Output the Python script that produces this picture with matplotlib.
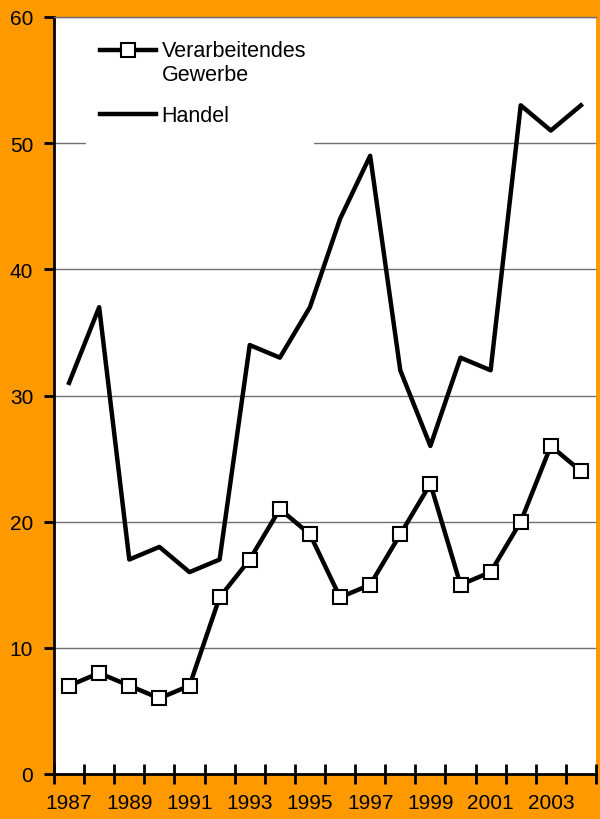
import matplotlib.pyplot as plt
import numpy as np
from matplotlib.legend_handler import HandlerLine2D
from matplotlib.patches import Rectangle

plt.rcParams['font.family'] = ['Liberation Sans', 'DejaVu Sans']

years = list(range(1987, 2005))
gewerbe = [7, 8, 7, 6, 7, 14, 17, 21, 19, 14, 15, 19, 23, 15, 16, 20, 26, 24]
handel = [31, 37, 17, 18, 16, 17, 34, 33, 37, 44, 49, 32, 26, 33, 32, 53, 51, 53]
year_labels = [str(y) if (y - 1987) % 2 == 0 else '' for y in years]

orange = '#FF9900'


class RaisedLine(HandlerLine2D):
    # put the legend handle level with the first line of a two-line label
    def __init__(self, dy=0.0, **kw):
        super().__init__(**kw)
        self.dy = dy

    def create_artists(self, legend, orig_handle, xdescent, ydescent, width,
                       height, fontsize, trans):
        arts = super().create_artists(legend, orig_handle, xdescent, ydescent,
                                      width, height, fontsize, trans)
        for a in arts:
            a.set_ydata(np.asarray(a.get_ydata()) + self.dy * fontsize)
        return arts


fig = plt.figure(figsize=(6, 8.2), dpi=100, facecolor=orange)
ax = fig.add_axes([54/600, 45/820, 542/600, 757/820])
ax.set_facecolor('white')

x = np.arange(len(years))
l1, = ax.plot(x, gewerbe, color='black', lw=3.2, marker='s', markersize=9.5,
              markerfacecolor='white', markeredgecolor='black', markeredgewidth=1.5,
              label='Verarbeitendes\nGewerbe', zorder=3)
l2, = ax.plot(x, handel, color='black', lw=3.2, label='Handel', zorder=3)

ax.set_xlim(-0.5, len(years) - 0.5)
ax.set_ylim(0, 60)
ax.set_yticks(range(0, 61, 10))
ax.yaxis.grid(True, color='#707070', lw=1)
ax.set_axisbelow(True)

# category axis: ticks between years, labels centred
ax.set_xticks(np.arange(-0.5, len(years)))
ax.set_xticklabels([])
ax.set_xticks(x, minor=True)
ax.set_xticklabels(year_labels, minor=True, fontsize=15)
ax.tick_params(axis='x', which='major', direction='inout', length=15, width=2)
ax.tick_params(axis='x', which='minor', length=0, pad=14)
ax.tick_params(axis='y', direction='out', length=7, width=2, labelsize=15, pad=8)

ax.spines['left'].set_linewidth(2)
ax.spines['bottom'].set_linewidth(2)
ax.spines['top'].set_color('#707070')
ax.spines['top'].set_linewidth(1)
ax.spines['right'].set_visible(False)

# white block behind the legend (hides the gridline at 50)
ax.add_patch(Rectangle((0.059, 0.82), 0.42, 0.17, transform=ax.transAxes,
                       facecolor='white', edgecolor='none', zorder=1))

leg = ax.legend(handler_map={l1: RaisedLine(dy=0.58)},
                loc='upper left', bbox_to_anchor=(0.085, 0.97), fontsize=15.5,
                handlelength=2.6, handletextpad=0.25, labelspacing=0.94,
                frameon=False, borderpad=0, borderaxespad=0)
leg.set_zorder(5)

fig.savefig('out.png', dpi=100, facecolor=orange)
